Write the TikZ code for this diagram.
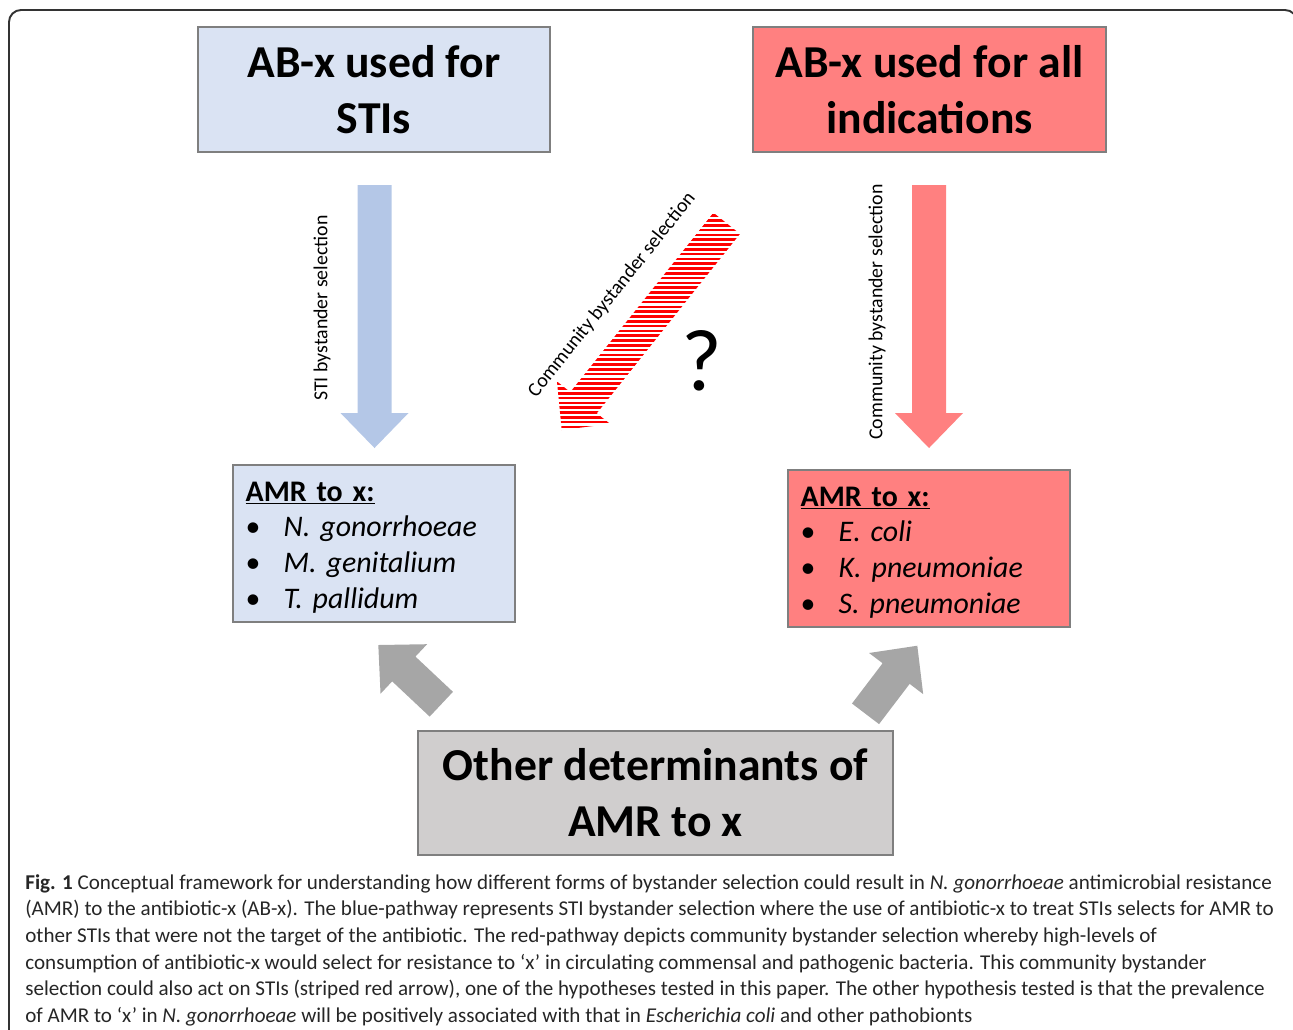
\documentclass[tikz,border=0pt]{standalone}
\usepackage{fontspec}
\setmainfont{Carlito}
\usetikzlibrary{calc}

\definecolor{stiblue}{HTML}{DAE3F3}
\definecolor{stiarrow}{HTML}{B4C7E7}
\definecolor{allred}{HTML}{FF8080}
\definecolor{otherfill}{HTML}{D0CECE}
\definecolor{otherarrow}{HTML}{A6A6A6}
\definecolor{boxedge}{HTML}{7F7F7F}

\newcommand{\halfshaft}{0.34cm}
\newcommand{\halfhead}{0.68cm}
\newcommand{\headlen}{0.70cm}
\newcommand{\blockarrow}[3][]{%
  \path[#1] ($(#2)!\halfshaft!90:(#3)$)
    -- ($(#3)!\headlen!(#2)!\halfshaft!-90:(#2)$)
    -- ($(#3)!\headlen!(#2)!\halfhead!-90:(#2)$)
    -- (#3)
    -- ($(#3)!\headlen!(#2)!\halfhead!90:(#2)$)
    -- ($(#3)!\headlen!(#2)!\halfshaft!90:(#2)$)
    -- ($(#2)!\halfshaft!-90:(#3)$) -- cycle;}
\newcommand{\species}[1]{\makebox[0.76cm][l]{\textbullet}\textit{#1}}

\begin{document}
\begin{tikzpicture}[x=0.02cm,y=-0.02cm,
  titlebox/.style={draw=boxedge, line width=0.8pt, minimum width=7.04cm, minimum height=2.5cm,
    inner sep=0pt, align=center, font=\fontsize{26}{31.75}\selectfont\bfseries},
  amrbox/.style={draw=boxedge, line width=0.8pt, minimum width=5.64cm, minimum height=3.14cm},
  amrtext/.style={anchor=west, text width=5.12cm, inner xsep=0.26cm, inner ysep=0pt, align=left,
    font=\fontsize{17}{20.4}\selectfont},
  pathlabel/.style={font=\fontsize{11.3}{13}\selectfont, inner sep=0pt}]
	\useasboundingbox (0,0) rectangle (1293,1029);
	\draw[black!80, line width=1.1pt, rounded corners=0.24cm] (9,1060) -- (9,10) -- (1297,10) -- (1297,1060);

	\node[titlebox, fill=stiblue] (stiuse) at (374,89.5) {AB-x used for\\STIs};
	\node[titlebox, fill=allred, minimum width=7.06cm] (alluse) at (929.5,89.5) {AB-x used for all\\indications};
	\node[amrbox, fill=stiblue] (stiamr) at (374,543.5) {};
	\node[amrtext] (stilist) at ($(stiamr.west)+(0,4)$) {\underline{\textbf{AMR to x:}}\\
		\species{N. gonorrhoeae}\\ \species{M. genitalium}\\ \species{T. pallidum}};
	\node[amrbox, fill=allred] (allamr) at (929,548.5) {};
	\node[amrtext] (alllist) at ($(allamr.west)+(0,4)$) {\underline{\textbf{AMR to x:}}\\
		\species{E. coli}\\ \species{K. pneumoniae}\\ \species{S. pneumoniae}};
	\node[titlebox, fill=otherfill, minimum width=9.5cm, minimum height=2.48cm] (other) at (655.5,793) {Other determinants of\\AMR to x};

	\coordinate (stitail) at (374.5,185);
	\coordinate (stitip) at (374.5,448);
	\coordinate (alltail) at (929,185);
	\coordinate (alltip) at (929,448);
	\coordinate (commtail) at (726.7,223.3);
	\coordinate (commtip) at (561.7,430);
	\coordinate (lefttail) at (441.3,704.2);
	\coordinate (lefttip) at (378.3,645);
	\coordinate (righttail) at (865.5,713.8);
	\coordinate (righttip) at (917.3,645.7);

	\blockarrow[fill=stiarrow]{stitail}{stitip};
	\blockarrow[fill=allred]{alltail}{alltip};
	\blockarrow[fill=otherarrow]{lefttail}{lefttip};
	\blockarrow[fill=otherarrow]{righttail}{righttip};
	\begin{scope}
		\blockarrow[clip]{commtail}{commtip};
		\foreach \k in {0,...,50}
			\fill[red] (530,200+\k*4.8) rectangle (770,202.6+\k*4.8);
	\end{scope}

	\node[pathlabel, rotate=90] (stilabel) at (322,308) {STI bystander selection};
	\node[pathlabel, rotate=90] (alllabel) at (877,312) {Community bystander selection};
	\node[pathlabel, rotate=51.4] (commlabel) at (612,295) {Community bystander selection};
	\node[font=\fontsize{50}{60}\selectfont, inner sep=0pt] (query) at (702,361) {?};

	\node[anchor=north west, inner sep=0pt, align=left, text=black!85, font=\fontsize{12}{15.2}\selectfont] (caption) at (25,874)
		{\textbf{Fig. 1} Conceptual framework for understanding how different forms of bystander selection could result in \textit{N. gonorrhoeae} antimicrobial resistance\\
		(AMR) to the antibiotic-x (AB-x). The blue-pathway represents STI bystander selection where the use of antibiotic-x to treat STIs selects for AMR to\\
		other STIs that were not the target of the antibiotic. The red-pathway depicts community bystander selection whereby high-levels of\\
		consumption of antibiotic-x would select for resistance to ‘x’ in circulating commensal and pathogenic bacteria. This community bystander\\
		selection could also act on STIs (striped red arrow), one of the hypotheses tested in this paper. The other hypothesis tested is that the prevalence\\
		of AMR to ‘x’ in \textit{N. gonorrhoeae} will be positively associated with that in \textit{Escherichia coli} and other pathobionts};
\end{tikzpicture}
\end{document}
